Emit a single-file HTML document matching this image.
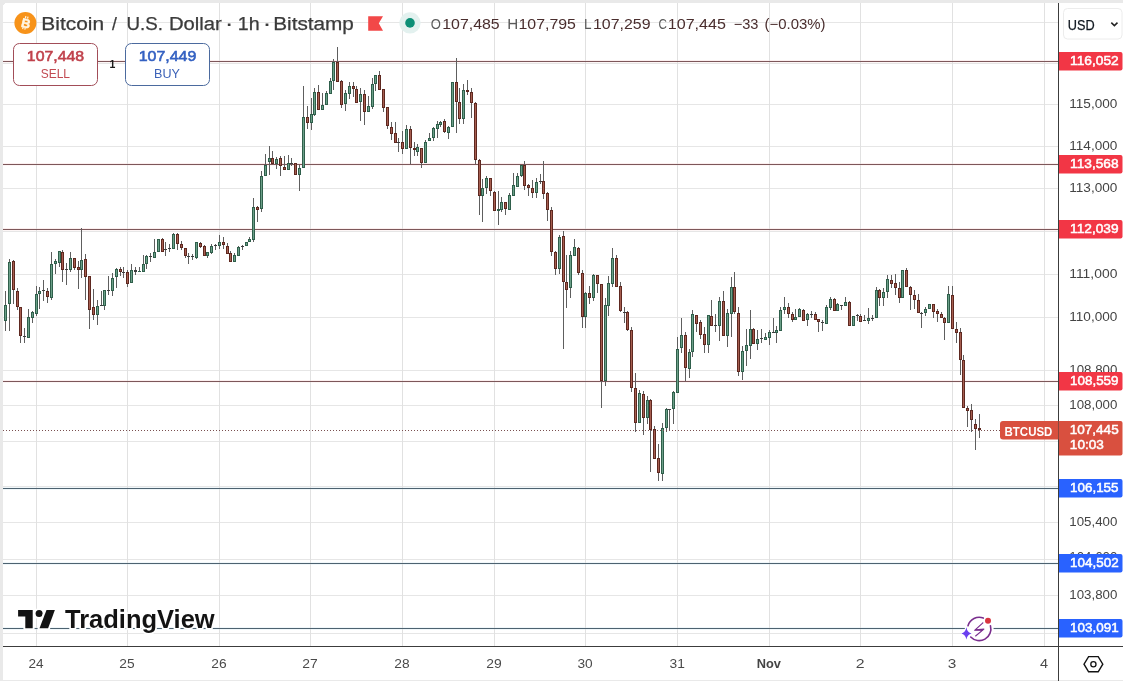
<!DOCTYPE html>
<html><head><meta charset="utf-8"><style>
html,body{margin:0;padding:0;width:1123px;height:681px;overflow:hidden;background:#e9e9e9;}
svg{position:absolute;left:0;top:0;display:block;}
text{font-family:'Liberation Sans', Arial, sans-serif;}
</style></head><body>
<svg width="1123" height="681" viewBox="0 0 1123 681" shape-rendering="crispEdges">
<path d="M3 7a4 4 0 0 1 4-4H1123V680H3z" fill="#ffffff"/>
<path d="M3 60h1055v1h-1055zM3 163h1055v1h-1055zM3 228h1055v1h-1055zM3 380h1055v1h-1055z" fill="#fcefef"/><path d="M3 62h1055v1h-1055zM3 165h1055v1h-1055zM3 230h1055v1h-1055zM3 382h1055v1h-1055z" fill="#fdf6f6"/><path d="M3 487h1055v1h-1055zM3 489h1055v1h-1055zM3 562h1055v1h-1055zM3 564h1055v1h-1055zM3 627h1055v1h-1055zM3 629h1055v1h-1055z" fill="#f0f7fa"/><path d="M3 22h1055v1h-1055zM3 63h1055v1h-1055zM3 104h1055v1h-1055zM3 146h1055v1h-1055zM3 188h1055v1h-1055zM3 231h1055v1h-1055zM3 274h1055v1h-1055zM3 317h1055v1h-1055zM3 370h1055v1h-1055zM3 405h1055v1h-1055zM3 441h1055v1h-1055zM3 486h1055v1h-1055zM3 522h1055v1h-1055zM3 559h1055v1h-1055zM3 595h1055v1h-1055zM3 633h1055v1h-1055z" fill="#e6e6e6"/><path d="M36 3h1v643h-1zM127 3h1v643h-1zM219 3h1v643h-1zM310 3h1v643h-1zM402 3h1v643h-1zM494 3h1v643h-1zM585 3h1v643h-1zM677 3h1v643h-1zM769 3h1v643h-1zM860 3h1v643h-1zM952 3h1v643h-1zM1044 3h1v643h-1z" fill="#e1e1e1"/>
<path d="M3 61h1055v1h-1055zM3 164h1055v1h-1055zM3 229h1055v1h-1055zM3 381h1055v1h-1055z" fill="#7d575a"/><path d="M3 488h1055v1h-1055zM3 563h1055v1h-1055zM3 628h1055v1h-1055z" fill="#4d6270"/>
<path d="M5 291h1v40h-1zM9 259h1v72h-1zM13 260h1v44h-1zM17 288h1v22h-1zM20 307h1v36h-1zM24 328h1v15h-1zM28 309h1v29h-1zM32 311h1v12h-1zM36 286h1v30h-1zM39 287h1v22h-1zM43 280h1v21h-1zM47 288h1v15h-1zM51 252h1v48h-1zM55 259h1v15h-1zM59 251h1v16h-1zM62 250h1v32h-1zM66 263h1v22h-1zM70 252h1v20h-1zM74 258h1v12h-1zM78 261h1v28h-1zM81 228h1v50h-1zM85 254h1v46h-1zM89 276h1v53h-1zM93 289h1v31h-1zM97 300h1v25h-1zM101 291h1v15h-1zM104 290h1v20h-1zM108 276h1v19h-1zM112 273h1v23h-1zM116 268h1v20h-1zM120 267h1v9h-1zM123 267h1v11h-1zM127 270h1v17h-1zM131 264h1v19h-1zM135 267h1v8h-1zM139 267h1v5h-1zM143 255h1v17h-1zM146 255h1v14h-1zM150 253h1v9h-1zM154 239h1v19h-1zM158 239h1v13h-1zM162 238h1v14h-1zM165 242h1v14h-1zM169 244h1v8h-1zM173 233h1v16h-1zM177 233h1v17h-1zM181 241h1v9h-1zM185 248h1v10h-1zM188 253h1v11h-1zM192 254h1v6h-1zM196 242h1v17h-1zM200 242h1v6h-1zM204 245h1v11h-1zM207 252h1v6h-1zM211 244h1v10h-1zM215 244h1v6h-1zM219 235h1v14h-1zM223 237h1v12h-1zM227 243h1v11h-1zM230 251h1v11h-1zM234 253h1v9h-1zM238 246h1v10h-1zM242 245h1v5h-1zM246 242h1v4h-1zM249 237h1v5h-1zM253 198h1v44h-1zM257 206h1v16h-1zM261 171h1v41h-1zM265 154h1v22h-1zM269 146h1v29h-1zM272 151h1v13h-1zM276 157h1v12h-1zM280 156h1v20h-1zM284 156h1v14h-1zM288 155h1v15h-1zM291 158h1v8h-1zM295 163h1v12h-1zM299 165h1v26h-1zM303 86h1v82h-1zM307 106h1v23h-1zM311 98h1v32h-1zM314 88h1v28h-1zM318 85h1v25h-1zM322 93h1v17h-1zM326 91h1v14h-1zM330 78h1v16h-1zM333 59h1v31h-1zM337 47h1v35h-1zM341 80h1v28h-1zM345 90h1v21h-1zM349 82h1v17h-1zM353 82h1v15h-1zM356 86h1v17h-1zM360 88h1v33h-1zM364 90h1v35h-1zM368 96h1v16h-1zM372 78h1v31h-1zM375 75h1v16h-1zM379 71h1v19h-1zM383 89h1v23h-1zM387 107h1v22h-1zM391 122h1v18h-1zM395 122h1v21h-1zM398 138h1v14h-1zM402 131h1v23h-1zM406 125h1v24h-1zM410 126h1v38h-1zM414 142h1v14h-1zM417 144h1v12h-1zM421 148h1v20h-1zM425 140h1v23h-1zM429 133h1v8h-1zM433 127h1v14h-1zM437 121h1v17h-1zM440 121h1v6h-1zM444 119h1v14h-1zM448 126h1v13h-1zM452 82h1v45h-1zM456 58h1v75h-1zM459 88h1v36h-1zM463 84h1v40h-1zM467 80h1v15h-1zM471 88h1v30h-1zM475 102h1v62h-1zM479 159h1v56h-1zM482 179h1v43h-1zM486 176h1v18h-1zM490 178h1v18h-1zM494 191h1v20h-1zM498 191h1v34h-1zM501 197h1v15h-1zM505 202h1v13h-1zM509 193h1v17h-1zM513 173h1v23h-1zM517 173h1v14h-1zM521 165h1v12h-1zM524 161h1v29h-1zM528 184h1v12h-1zM532 180h1v18h-1zM536 178h1v20h-1zM540 174h1v10h-1zM543 161h1v38h-1zM547 192h1v29h-1zM551 207h1v49h-1zM555 251h1v24h-1zM559 235h1v39h-1zM563 231h1v118h-1zM566 255h1v53h-1zM570 251h1v47h-1zM574 239h1v17h-1zM578 247h1v28h-1zM582 270h1v58h-1zM585 292h1v36h-1zM589 286h1v18h-1zM593 274h1v27h-1zM597 275h1v18h-1zM601 284h1v124h-1zM605 298h1v88h-1zM608 276h1v40h-1zM612 248h1v39h-1zM616 255h1v32h-1zM620 282h1v30h-1zM624 307h1v16h-1zM627 311h1v20h-1zM631 327h1v65h-1zM635 373h1v59h-1zM639 390h1v33h-1zM643 391h1v44h-1zM647 396h1v28h-1zM650 399h1v73h-1zM654 426h1v33h-1zM658 444h1v37h-1zM662 423h1v58h-1zM666 408h1v24h-1zM669 409h1v21h-1zM673 391h1v33h-1zM677 337h1v56h-1zM681 318h1v35h-1zM685 332h1v49h-1zM689 349h1v29h-1zM692 310h1v47h-1zM696 315h1v17h-1zM700 320h1v19h-1zM704 327h1v26h-1zM708 315h1v38h-1zM711 300h1v26h-1zM715 314h1v18h-1zM719 297h1v44h-1zM723 291h1v45h-1zM727 309h1v38h-1zM731 277h1v60h-1zM734 272h1v42h-1zM738 307h1v69h-1zM742 346h1v34h-1zM746 329h1v37h-1zM750 310h1v49h-1zM753 328h1v16h-1zM757 330h1v20h-1zM761 329h1v14h-1zM765 333h1v7h-1zM769 330h1v15h-1zM773 318h1v15h-1zM776 326h1v17h-1zM780 307h1v24h-1zM784 297h1v17h-1zM788 303h1v15h-1zM792 312h1v10h-1zM795 309h1v11h-1zM799 308h1v9h-1zM803 309h1v12h-1zM807 313h1v13h-1zM811 311h1v7h-1zM815 312h1v8h-1zM818 319h1v13h-1zM822 320h1v11h-1zM826 305h1v19h-1zM830 297h1v13h-1zM834 298h1v13h-1zM837 303h1v8h-1zM841 305h1v5h-1zM845 297h1v9h-1zM849 301h1v25h-1zM853 316h1v10h-1zM857 314h1v7h-1zM860 314h1v8h-1zM864 315h1v6h-1zM868 308h1v16h-1zM872 315h1v6h-1zM876 287h1v31h-1zM879 289h1v17h-1zM883 288h1v18h-1zM887 275h1v23h-1zM891 275h1v13h-1zM895 274h1v21h-1zM899 282h1v21h-1zM902 270h1v28h-1zM906 268h1v19h-1zM910 286h1v24h-1zM914 290h1v19h-1zM918 294h1v19h-1zM921 312h1v16h-1zM925 307h1v9h-1zM929 304h1v5h-1zM933 304h1v14h-1zM937 309h1v13h-1zM941 312h1v6h-1zM944 317h1v23h-1zM948 286h1v37h-1zM952 286h1v43h-1zM956 322h1v21h-1zM960 328h1v47h-1zM963 355h1v53h-1zM967 406h1v21h-1zM971 404h1v28h-1zM975 419h1v31h-1zM979 414h1v24h-1z" fill="#5e5e5e"/>
<rect x="4" y="305" width="3" height="16" fill="#2f5f4b"/>
<rect x="5" y="306" width="1" height="14" fill="#6b9f88"/>
<rect x="8" y="262" width="3" height="42" fill="#2f5f4b"/>
<rect x="9" y="263" width="1" height="40" fill="#6b9f88"/>
<rect x="12" y="261" width="3" height="29" fill="#5e2820"/>
<rect x="13" y="262" width="1" height="27" fill="#a65e50"/>
<rect x="16" y="291" width="3" height="16" fill="#5e2820"/>
<rect x="17" y="292" width="1" height="14" fill="#a65e50"/>
<rect x="19" y="307" width="3" height="29" fill="#5e2820"/>
<rect x="20" y="308" width="1" height="27" fill="#a65e50"/>
<rect x="23" y="336" width="3" height="1" fill="#3d3d3d"/>
<rect x="27" y="317" width="3" height="21" fill="#2f5f4b"/>
<rect x="28" y="318" width="1" height="19" fill="#6b9f88"/>
<rect x="31" y="312" width="3" height="6" fill="#2f5f4b"/>
<rect x="32" y="313" width="1" height="4" fill="#6b9f88"/>
<rect x="35" y="294" width="3" height="20" fill="#2f5f4b"/>
<rect x="36" y="295" width="1" height="18" fill="#6b9f88"/>
<rect x="38" y="291" width="3" height="3" fill="#2f5f4b"/>
<rect x="39" y="292" width="1" height="1" fill="#6b9f88"/>
<rect x="42" y="290" width="3" height="1" fill="#3d3d3d"/>
<rect x="46" y="291" width="3" height="6" fill="#5e2820"/>
<rect x="47" y="292" width="1" height="4" fill="#a65e50"/>
<rect x="50" y="264" width="3" height="34" fill="#2f5f4b"/>
<rect x="51" y="265" width="1" height="32" fill="#6b9f88"/>
<rect x="54" y="261" width="3" height="3" fill="#2f5f4b"/>
<rect x="55" y="262" width="1" height="1" fill="#6b9f88"/>
<rect x="58" y="251" width="3" height="12" fill="#2f5f4b"/>
<rect x="59" y="252" width="1" height="10" fill="#6b9f88"/>
<rect x="61" y="252" width="3" height="18" fill="#5e2820"/>
<rect x="62" y="253" width="1" height="16" fill="#a65e50"/>
<rect x="65" y="269" width="3" height="1" fill="#3d3d3d"/>
<rect x="69" y="258" width="3" height="12" fill="#2f5f4b"/>
<rect x="70" y="259" width="1" height="10" fill="#6b9f88"/>
<rect x="73" y="258" width="3" height="10" fill="#5e2820"/>
<rect x="74" y="259" width="1" height="8" fill="#a65e50"/>
<rect x="77" y="267" width="3" height="3" fill="#5e2820"/>
<rect x="78" y="268" width="1" height="1" fill="#a65e50"/>
<rect x="80" y="260" width="3" height="10" fill="#2f5f4b"/>
<rect x="81" y="261" width="1" height="8" fill="#6b9f88"/>
<rect x="84" y="259" width="3" height="18" fill="#5e2820"/>
<rect x="85" y="260" width="1" height="16" fill="#a65e50"/>
<rect x="88" y="276" width="3" height="34" fill="#5e2820"/>
<rect x="89" y="277" width="1" height="32" fill="#a65e50"/>
<rect x="92" y="307" width="3" height="8" fill="#5e2820"/>
<rect x="93" y="308" width="1" height="6" fill="#a65e50"/>
<rect x="96" y="306" width="3" height="9" fill="#2f5f4b"/>
<rect x="97" y="307" width="1" height="7" fill="#6b9f88"/>
<rect x="100" y="305" width="3" height="1" fill="#3d3d3d"/>
<rect x="103" y="290" width="3" height="16" fill="#2f5f4b"/>
<rect x="104" y="291" width="1" height="14" fill="#6b9f88"/>
<rect x="107" y="290" width="3" height="1" fill="#3d3d3d"/>
<rect x="111" y="278" width="3" height="13" fill="#2f5f4b"/>
<rect x="112" y="279" width="1" height="11" fill="#6b9f88"/>
<rect x="115" y="269" width="3" height="8" fill="#2f5f4b"/>
<rect x="116" y="270" width="1" height="6" fill="#6b9f88"/>
<rect x="119" y="269" width="3" height="3" fill="#5e2820"/>
<rect x="120" y="270" width="1" height="1" fill="#a65e50"/>
<rect x="122" y="272" width="3" height="1" fill="#3d3d3d"/>
<rect x="126" y="272" width="3" height="12" fill="#5e2820"/>
<rect x="127" y="273" width="1" height="10" fill="#a65e50"/>
<rect x="130" y="270" width="3" height="13" fill="#2f5f4b"/>
<rect x="131" y="271" width="1" height="11" fill="#6b9f88"/>
<rect x="134" y="270" width="3" height="2" fill="#3d3d3d"/>
<rect x="138" y="271" width="3" height="1" fill="#2f5f4b"/>
<rect x="142" y="264" width="3" height="8" fill="#2f5f4b"/>
<rect x="143" y="265" width="1" height="6" fill="#6b9f88"/>
<rect x="145" y="256" width="3" height="8" fill="#2f5f4b"/>
<rect x="146" y="257" width="1" height="6" fill="#6b9f88"/>
<rect x="149" y="256" width="3" height="1" fill="#3d3d3d"/>
<rect x="153" y="252" width="3" height="6" fill="#2f5f4b"/>
<rect x="154" y="253" width="1" height="4" fill="#6b9f88"/>
<rect x="157" y="239" width="3" height="13" fill="#2f5f4b"/>
<rect x="158" y="240" width="1" height="11" fill="#6b9f88"/>
<rect x="161" y="239" width="3" height="13" fill="#5e2820"/>
<rect x="162" y="240" width="1" height="11" fill="#a65e50"/>
<rect x="164" y="249" width="3" height="1" fill="#3d3d3d"/>
<rect x="168" y="248" width="3" height="1" fill="#3d3d3d"/>
<rect x="172" y="234" width="3" height="15" fill="#2f5f4b"/>
<rect x="173" y="235" width="1" height="13" fill="#6b9f88"/>
<rect x="176" y="234" width="3" height="10" fill="#5e2820"/>
<rect x="177" y="235" width="1" height="8" fill="#a65e50"/>
<rect x="180" y="244" width="3" height="4" fill="#5e2820"/>
<rect x="181" y="245" width="1" height="2" fill="#a65e50"/>
<rect x="184" y="248" width="3" height="8" fill="#5e2820"/>
<rect x="185" y="249" width="1" height="6" fill="#a65e50"/>
<rect x="187" y="256" width="3" height="1" fill="#3d3d3d"/>
<rect x="191" y="256" width="3" height="1" fill="#3d3d3d"/>
<rect x="195" y="242" width="3" height="16" fill="#2f5f4b"/>
<rect x="196" y="243" width="1" height="14" fill="#6b9f88"/>
<rect x="199" y="243" width="3" height="4" fill="#5e2820"/>
<rect x="200" y="244" width="1" height="2" fill="#a65e50"/>
<rect x="203" y="246" width="3" height="10" fill="#5e2820"/>
<rect x="204" y="247" width="1" height="8" fill="#a65e50"/>
<rect x="206" y="252" width="3" height="4" fill="#2f5f4b"/>
<rect x="207" y="253" width="1" height="2" fill="#6b9f88"/>
<rect x="210" y="246" width="3" height="7" fill="#2f5f4b"/>
<rect x="211" y="247" width="1" height="5" fill="#6b9f88"/>
<rect x="214" y="245" width="3" height="1" fill="#3d3d3d"/>
<rect x="218" y="242" width="3" height="4" fill="#2f5f4b"/>
<rect x="219" y="243" width="1" height="2" fill="#6b9f88"/>
<rect x="222" y="242" width="3" height="3" fill="#5e2820"/>
<rect x="223" y="243" width="1" height="1" fill="#a65e50"/>
<rect x="226" y="246" width="3" height="8" fill="#5e2820"/>
<rect x="227" y="247" width="1" height="6" fill="#a65e50"/>
<rect x="229" y="253" width="3" height="9" fill="#5e2820"/>
<rect x="230" y="254" width="1" height="7" fill="#a65e50"/>
<rect x="233" y="255" width="3" height="7" fill="#2f5f4b"/>
<rect x="234" y="256" width="1" height="5" fill="#6b9f88"/>
<rect x="237" y="247" width="3" height="9" fill="#2f5f4b"/>
<rect x="238" y="248" width="1" height="7" fill="#6b9f88"/>
<rect x="241" y="246" width="3" height="1" fill="#3d3d3d"/>
<rect x="245" y="242" width="3" height="4" fill="#2f5f4b"/>
<rect x="246" y="243" width="1" height="2" fill="#6b9f88"/>
<rect x="248" y="239" width="3" height="3" fill="#2f5f4b"/>
<rect x="249" y="240" width="1" height="1" fill="#6b9f88"/>
<rect x="252" y="207" width="3" height="33" fill="#2f5f4b"/>
<rect x="253" y="208" width="1" height="31" fill="#6b9f88"/>
<rect x="256" y="207" width="3" height="3" fill="#5e2820"/>
<rect x="257" y="208" width="1" height="1" fill="#a65e50"/>
<rect x="260" y="176" width="3" height="33" fill="#2f5f4b"/>
<rect x="261" y="177" width="1" height="31" fill="#6b9f88"/>
<rect x="264" y="165" width="3" height="11" fill="#2f5f4b"/>
<rect x="265" y="166" width="1" height="9" fill="#6b9f88"/>
<rect x="268" y="158" width="3" height="4" fill="#2f5f4b"/>
<rect x="269" y="159" width="1" height="2" fill="#6b9f88"/>
<rect x="271" y="158" width="3" height="6" fill="#5e2820"/>
<rect x="272" y="159" width="1" height="4" fill="#a65e50"/>
<rect x="275" y="159" width="3" height="5" fill="#2f5f4b"/>
<rect x="276" y="160" width="1" height="3" fill="#6b9f88"/>
<rect x="279" y="158" width="3" height="8" fill="#5e2820"/>
<rect x="280" y="159" width="1" height="6" fill="#a65e50"/>
<rect x="283" y="167" width="3" height="3" fill="#5e2820"/>
<rect x="284" y="168" width="1" height="1" fill="#a65e50"/>
<rect x="287" y="163" width="3" height="7" fill="#2f5f4b"/>
<rect x="288" y="164" width="1" height="5" fill="#6b9f88"/>
<rect x="290" y="163" width="3" height="1" fill="#3d3d3d"/>
<rect x="294" y="163" width="3" height="12" fill="#5e2820"/>
<rect x="295" y="164" width="1" height="10" fill="#a65e50"/>
<rect x="298" y="168" width="3" height="7" fill="#2f5f4b"/>
<rect x="299" y="169" width="1" height="5" fill="#6b9f88"/>
<rect x="302" y="117" width="3" height="51" fill="#2f5f4b"/>
<rect x="303" y="118" width="1" height="49" fill="#6b9f88"/>
<rect x="306" y="117" width="3" height="6" fill="#5e2820"/>
<rect x="307" y="118" width="1" height="4" fill="#a65e50"/>
<rect x="310" y="114" width="3" height="9" fill="#2f5f4b"/>
<rect x="311" y="115" width="1" height="7" fill="#6b9f88"/>
<rect x="313" y="92" width="3" height="23" fill="#2f5f4b"/>
<rect x="314" y="93" width="1" height="21" fill="#6b9f88"/>
<rect x="317" y="92" width="3" height="18" fill="#5e2820"/>
<rect x="318" y="93" width="1" height="16" fill="#a65e50"/>
<rect x="321" y="105" width="3" height="5" fill="#2f5f4b"/>
<rect x="322" y="106" width="1" height="3" fill="#6b9f88"/>
<rect x="325" y="93" width="3" height="12" fill="#2f5f4b"/>
<rect x="326" y="94" width="1" height="10" fill="#6b9f88"/>
<rect x="329" y="81" width="3" height="13" fill="#2f5f4b"/>
<rect x="330" y="82" width="1" height="11" fill="#6b9f88"/>
<rect x="332" y="62" width="3" height="19" fill="#2f5f4b"/>
<rect x="333" y="63" width="1" height="17" fill="#6b9f88"/>
<rect x="336" y="62" width="3" height="20" fill="#5e2820"/>
<rect x="337" y="63" width="1" height="18" fill="#a65e50"/>
<rect x="340" y="81" width="3" height="24" fill="#5e2820"/>
<rect x="341" y="82" width="1" height="22" fill="#a65e50"/>
<rect x="344" y="93" width="3" height="11" fill="#2f5f4b"/>
<rect x="345" y="94" width="1" height="9" fill="#6b9f88"/>
<rect x="348" y="86" width="3" height="8" fill="#2f5f4b"/>
<rect x="349" y="87" width="1" height="6" fill="#6b9f88"/>
<rect x="352" y="86" width="3" height="3" fill="#5e2820"/>
<rect x="353" y="87" width="1" height="1" fill="#a65e50"/>
<rect x="355" y="89" width="3" height="14" fill="#5e2820"/>
<rect x="356" y="90" width="1" height="12" fill="#a65e50"/>
<rect x="359" y="94" width="3" height="8" fill="#2f5f4b"/>
<rect x="360" y="95" width="1" height="6" fill="#6b9f88"/>
<rect x="363" y="94" width="3" height="18" fill="#5e2820"/>
<rect x="364" y="95" width="1" height="16" fill="#a65e50"/>
<rect x="367" y="106" width="3" height="6" fill="#2f5f4b"/>
<rect x="368" y="107" width="1" height="4" fill="#6b9f88"/>
<rect x="371" y="84" width="3" height="23" fill="#2f5f4b"/>
<rect x="372" y="85" width="1" height="21" fill="#6b9f88"/>
<rect x="374" y="75" width="3" height="9" fill="#2f5f4b"/>
<rect x="375" y="76" width="1" height="7" fill="#6b9f88"/>
<rect x="378" y="75" width="3" height="15" fill="#5e2820"/>
<rect x="379" y="76" width="1" height="13" fill="#a65e50"/>
<rect x="382" y="89" width="3" height="19" fill="#5e2820"/>
<rect x="383" y="90" width="1" height="17" fill="#a65e50"/>
<rect x="386" y="107" width="3" height="19" fill="#5e2820"/>
<rect x="387" y="108" width="1" height="17" fill="#a65e50"/>
<rect x="390" y="127" width="3" height="7" fill="#5e2820"/>
<rect x="391" y="128" width="1" height="5" fill="#a65e50"/>
<rect x="394" y="133" width="3" height="10" fill="#5e2820"/>
<rect x="395" y="134" width="1" height="8" fill="#a65e50"/>
<rect x="397" y="142" width="3" height="1" fill="#3d3d3d"/>
<rect x="401" y="142" width="3" height="7" fill="#5e2820"/>
<rect x="402" y="143" width="1" height="5" fill="#a65e50"/>
<rect x="405" y="129" width="3" height="20" fill="#2f5f4b"/>
<rect x="406" y="130" width="1" height="18" fill="#6b9f88"/>
<rect x="409" y="129" width="3" height="19" fill="#5e2820"/>
<rect x="410" y="130" width="1" height="17" fill="#a65e50"/>
<rect x="413" y="148" width="3" height="2" fill="#5e2820"/>
<rect x="416" y="147" width="3" height="5" fill="#2f5f4b"/>
<rect x="417" y="148" width="1" height="3" fill="#6b9f88"/>
<rect x="420" y="148" width="3" height="15" fill="#5e2820"/>
<rect x="421" y="149" width="1" height="13" fill="#a65e50"/>
<rect x="424" y="142" width="3" height="21" fill="#2f5f4b"/>
<rect x="425" y="143" width="1" height="19" fill="#6b9f88"/>
<rect x="428" y="138" width="3" height="3" fill="#2f5f4b"/>
<rect x="429" y="139" width="1" height="1" fill="#6b9f88"/>
<rect x="432" y="128" width="3" height="10" fill="#2f5f4b"/>
<rect x="433" y="129" width="1" height="8" fill="#6b9f88"/>
<rect x="436" y="124" width="3" height="5" fill="#2f5f4b"/>
<rect x="437" y="125" width="1" height="3" fill="#6b9f88"/>
<rect x="439" y="122" width="3" height="3" fill="#2f5f4b"/>
<rect x="440" y="123" width="1" height="1" fill="#6b9f88"/>
<rect x="443" y="121" width="3" height="11" fill="#5e2820"/>
<rect x="444" y="122" width="1" height="9" fill="#a65e50"/>
<rect x="447" y="127" width="3" height="6" fill="#2f5f4b"/>
<rect x="448" y="128" width="1" height="4" fill="#6b9f88"/>
<rect x="451" y="82" width="3" height="45" fill="#2f5f4b"/>
<rect x="452" y="83" width="1" height="43" fill="#6b9f88"/>
<rect x="455" y="82" width="3" height="20" fill="#5e2820"/>
<rect x="456" y="83" width="1" height="18" fill="#a65e50"/>
<rect x="458" y="102" width="3" height="17" fill="#5e2820"/>
<rect x="459" y="103" width="1" height="15" fill="#a65e50"/>
<rect x="462" y="90" width="3" height="29" fill="#2f5f4b"/>
<rect x="463" y="91" width="1" height="27" fill="#6b9f88"/>
<rect x="466" y="90" width="3" height="2" fill="#5e2820"/>
<rect x="470" y="92" width="3" height="11" fill="#5e2820"/>
<rect x="471" y="93" width="1" height="9" fill="#a65e50"/>
<rect x="474" y="103" width="3" height="57" fill="#5e2820"/>
<rect x="475" y="104" width="1" height="55" fill="#a65e50"/>
<rect x="478" y="160" width="3" height="36" fill="#5e2820"/>
<rect x="479" y="161" width="1" height="34" fill="#a65e50"/>
<rect x="481" y="188" width="3" height="8" fill="#2f5f4b"/>
<rect x="482" y="189" width="1" height="6" fill="#6b9f88"/>
<rect x="485" y="178" width="3" height="10" fill="#2f5f4b"/>
<rect x="486" y="179" width="1" height="8" fill="#6b9f88"/>
<rect x="489" y="178" width="3" height="13" fill="#5e2820"/>
<rect x="490" y="179" width="1" height="11" fill="#a65e50"/>
<rect x="493" y="192" width="3" height="19" fill="#5e2820"/>
<rect x="494" y="193" width="1" height="17" fill="#a65e50"/>
<rect x="497" y="209" width="3" height="2" fill="#2f5f4b"/>
<rect x="500" y="202" width="3" height="8" fill="#2f5f4b"/>
<rect x="501" y="203" width="1" height="6" fill="#6b9f88"/>
<rect x="504" y="202" width="3" height="7" fill="#5e2820"/>
<rect x="505" y="203" width="1" height="5" fill="#a65e50"/>
<rect x="508" y="195" width="3" height="15" fill="#2f5f4b"/>
<rect x="509" y="196" width="1" height="13" fill="#6b9f88"/>
<rect x="512" y="185" width="3" height="11" fill="#2f5f4b"/>
<rect x="513" y="186" width="1" height="9" fill="#6b9f88"/>
<rect x="516" y="176" width="3" height="11" fill="#2f5f4b"/>
<rect x="517" y="177" width="1" height="9" fill="#6b9f88"/>
<rect x="520" y="165" width="3" height="11" fill="#2f5f4b"/>
<rect x="521" y="166" width="1" height="9" fill="#6b9f88"/>
<rect x="523" y="165" width="3" height="21" fill="#5e2820"/>
<rect x="524" y="166" width="1" height="19" fill="#a65e50"/>
<rect x="527" y="185" width="3" height="3" fill="#5e2820"/>
<rect x="528" y="186" width="1" height="1" fill="#a65e50"/>
<rect x="531" y="188" width="3" height="5" fill="#5e2820"/>
<rect x="532" y="189" width="1" height="3" fill="#a65e50"/>
<rect x="535" y="182" width="3" height="11" fill="#2f5f4b"/>
<rect x="536" y="183" width="1" height="9" fill="#6b9f88"/>
<rect x="539" y="181" width="3" height="1" fill="#3d3d3d"/>
<rect x="542" y="181" width="3" height="13" fill="#5e2820"/>
<rect x="543" y="182" width="1" height="11" fill="#a65e50"/>
<rect x="546" y="193" width="3" height="17" fill="#5e2820"/>
<rect x="547" y="194" width="1" height="15" fill="#a65e50"/>
<rect x="550" y="210" width="3" height="42" fill="#5e2820"/>
<rect x="551" y="211" width="1" height="40" fill="#a65e50"/>
<rect x="554" y="252" width="3" height="17" fill="#5e2820"/>
<rect x="555" y="253" width="1" height="15" fill="#a65e50"/>
<rect x="558" y="237" width="3" height="32" fill="#2f5f4b"/>
<rect x="559" y="238" width="1" height="30" fill="#6b9f88"/>
<rect x="562" y="236" width="3" height="46" fill="#5e2820"/>
<rect x="563" y="237" width="1" height="44" fill="#a65e50"/>
<rect x="565" y="282" width="3" height="8" fill="#5e2820"/>
<rect x="566" y="283" width="1" height="6" fill="#a65e50"/>
<rect x="569" y="255" width="3" height="33" fill="#2f5f4b"/>
<rect x="570" y="256" width="1" height="31" fill="#6b9f88"/>
<rect x="573" y="247" width="3" height="9" fill="#2f5f4b"/>
<rect x="574" y="248" width="1" height="7" fill="#6b9f88"/>
<rect x="577" y="248" width="3" height="25" fill="#5e2820"/>
<rect x="578" y="249" width="1" height="23" fill="#a65e50"/>
<rect x="581" y="273" width="3" height="44" fill="#5e2820"/>
<rect x="582" y="274" width="1" height="42" fill="#a65e50"/>
<rect x="584" y="293" width="3" height="24" fill="#2f5f4b"/>
<rect x="585" y="294" width="1" height="22" fill="#6b9f88"/>
<rect x="588" y="293" width="3" height="5" fill="#5e2820"/>
<rect x="589" y="294" width="1" height="3" fill="#a65e50"/>
<rect x="592" y="275" width="3" height="23" fill="#2f5f4b"/>
<rect x="593" y="276" width="1" height="21" fill="#6b9f88"/>
<rect x="596" y="275" width="3" height="9" fill="#5e2820"/>
<rect x="597" y="276" width="1" height="7" fill="#a65e50"/>
<rect x="600" y="284" width="3" height="97" fill="#5e2820"/>
<rect x="601" y="285" width="1" height="95" fill="#a65e50"/>
<rect x="604" y="305" width="3" height="76" fill="#2f5f4b"/>
<rect x="605" y="306" width="1" height="74" fill="#6b9f88"/>
<rect x="607" y="283" width="3" height="23" fill="#2f5f4b"/>
<rect x="608" y="284" width="1" height="21" fill="#6b9f88"/>
<rect x="611" y="258" width="3" height="26" fill="#2f5f4b"/>
<rect x="612" y="259" width="1" height="24" fill="#6b9f88"/>
<rect x="615" y="258" width="3" height="29" fill="#5e2820"/>
<rect x="616" y="259" width="1" height="27" fill="#a65e50"/>
<rect x="619" y="286" width="3" height="25" fill="#5e2820"/>
<rect x="620" y="287" width="1" height="23" fill="#a65e50"/>
<rect x="623" y="312" width="3" height="1" fill="#3d3d3d"/>
<rect x="626" y="312" width="3" height="18" fill="#5e2820"/>
<rect x="627" y="313" width="1" height="16" fill="#a65e50"/>
<rect x="630" y="330" width="3" height="58" fill="#5e2820"/>
<rect x="631" y="331" width="1" height="56" fill="#a65e50"/>
<rect x="634" y="388" width="3" height="35" fill="#5e2820"/>
<rect x="635" y="389" width="1" height="33" fill="#a65e50"/>
<rect x="638" y="393" width="3" height="30" fill="#2f5f4b"/>
<rect x="639" y="394" width="1" height="28" fill="#6b9f88"/>
<rect x="642" y="394" width="3" height="24" fill="#5e2820"/>
<rect x="643" y="395" width="1" height="22" fill="#a65e50"/>
<rect x="646" y="400" width="3" height="18" fill="#2f5f4b"/>
<rect x="647" y="401" width="1" height="16" fill="#6b9f88"/>
<rect x="649" y="400" width="3" height="30" fill="#5e2820"/>
<rect x="650" y="401" width="1" height="28" fill="#a65e50"/>
<rect x="653" y="429" width="3" height="30" fill="#5e2820"/>
<rect x="654" y="430" width="1" height="28" fill="#a65e50"/>
<rect x="657" y="458" width="3" height="15" fill="#5e2820"/>
<rect x="658" y="459" width="1" height="13" fill="#a65e50"/>
<rect x="661" y="428" width="3" height="46" fill="#2f5f4b"/>
<rect x="662" y="429" width="1" height="44" fill="#6b9f88"/>
<rect x="665" y="409" width="3" height="19" fill="#2f5f4b"/>
<rect x="666" y="410" width="1" height="17" fill="#6b9f88"/>
<rect x="668" y="409" width="3" height="1" fill="#3d3d3d"/>
<rect x="672" y="392" width="3" height="17" fill="#2f5f4b"/>
<rect x="673" y="393" width="1" height="15" fill="#6b9f88"/>
<rect x="676" y="349" width="3" height="44" fill="#2f5f4b"/>
<rect x="677" y="350" width="1" height="42" fill="#6b9f88"/>
<rect x="680" y="335" width="3" height="13" fill="#2f5f4b"/>
<rect x="681" y="336" width="1" height="11" fill="#6b9f88"/>
<rect x="684" y="335" width="3" height="33" fill="#5e2820"/>
<rect x="685" y="336" width="1" height="31" fill="#a65e50"/>
<rect x="688" y="352" width="3" height="17" fill="#2f5f4b"/>
<rect x="689" y="353" width="1" height="15" fill="#6b9f88"/>
<rect x="691" y="314" width="3" height="38" fill="#2f5f4b"/>
<rect x="692" y="315" width="1" height="36" fill="#6b9f88"/>
<rect x="695" y="315" width="3" height="9" fill="#5e2820"/>
<rect x="696" y="316" width="1" height="7" fill="#a65e50"/>
<rect x="699" y="322" width="3" height="13" fill="#5e2820"/>
<rect x="700" y="323" width="1" height="11" fill="#a65e50"/>
<rect x="703" y="334" width="3" height="11" fill="#5e2820"/>
<rect x="704" y="335" width="1" height="9" fill="#a65e50"/>
<rect x="707" y="315" width="3" height="30" fill="#2f5f4b"/>
<rect x="708" y="316" width="1" height="28" fill="#6b9f88"/>
<rect x="710" y="316" width="3" height="10" fill="#5e2820"/>
<rect x="711" y="317" width="1" height="8" fill="#a65e50"/>
<rect x="714" y="325" width="3" height="1" fill="#3d3d3d"/>
<rect x="718" y="301" width="3" height="25" fill="#2f5f4b"/>
<rect x="719" y="302" width="1" height="23" fill="#6b9f88"/>
<rect x="722" y="301" width="3" height="35" fill="#5e2820"/>
<rect x="723" y="302" width="1" height="33" fill="#a65e50"/>
<rect x="726" y="313" width="3" height="23" fill="#2f5f4b"/>
<rect x="727" y="314" width="1" height="21" fill="#6b9f88"/>
<rect x="730" y="287" width="3" height="27" fill="#2f5f4b"/>
<rect x="731" y="288" width="1" height="25" fill="#6b9f88"/>
<rect x="733" y="287" width="3" height="25" fill="#5e2820"/>
<rect x="734" y="288" width="1" height="23" fill="#a65e50"/>
<rect x="737" y="313" width="3" height="59" fill="#5e2820"/>
<rect x="738" y="314" width="1" height="57" fill="#a65e50"/>
<rect x="741" y="351" width="3" height="21" fill="#2f5f4b"/>
<rect x="742" y="352" width="1" height="19" fill="#6b9f88"/>
<rect x="745" y="345" width="3" height="6" fill="#2f5f4b"/>
<rect x="746" y="346" width="1" height="4" fill="#6b9f88"/>
<rect x="749" y="329" width="3" height="17" fill="#2f5f4b"/>
<rect x="750" y="330" width="1" height="15" fill="#6b9f88"/>
<rect x="752" y="329" width="3" height="15" fill="#5e2820"/>
<rect x="753" y="330" width="1" height="13" fill="#a65e50"/>
<rect x="756" y="339" width="3" height="5" fill="#2f5f4b"/>
<rect x="757" y="340" width="1" height="3" fill="#6b9f88"/>
<rect x="760" y="338" width="3" height="1" fill="#3d3d3d"/>
<rect x="764" y="337" width="3" height="3" fill="#2f5f4b"/>
<rect x="765" y="338" width="1" height="1" fill="#6b9f88"/>
<rect x="768" y="332" width="3" height="6" fill="#2f5f4b"/>
<rect x="769" y="333" width="1" height="4" fill="#6b9f88"/>
<rect x="772" y="332" width="3" height="1" fill="#3d3d3d"/>
<rect x="775" y="330" width="3" height="3" fill="#2f5f4b"/>
<rect x="776" y="331" width="1" height="1" fill="#6b9f88"/>
<rect x="779" y="310" width="3" height="21" fill="#2f5f4b"/>
<rect x="780" y="311" width="1" height="19" fill="#6b9f88"/>
<rect x="783" y="307" width="3" height="3" fill="#2f5f4b"/>
<rect x="784" y="308" width="1" height="1" fill="#6b9f88"/>
<rect x="787" y="307" width="3" height="7" fill="#5e2820"/>
<rect x="788" y="308" width="1" height="5" fill="#a65e50"/>
<rect x="791" y="314" width="3" height="6" fill="#5e2820"/>
<rect x="792" y="315" width="1" height="4" fill="#a65e50"/>
<rect x="794" y="317" width="3" height="3" fill="#2f5f4b"/>
<rect x="795" y="318" width="1" height="1" fill="#6b9f88"/>
<rect x="798" y="309" width="3" height="8" fill="#2f5f4b"/>
<rect x="799" y="310" width="1" height="6" fill="#6b9f88"/>
<rect x="802" y="310" width="3" height="11" fill="#5e2820"/>
<rect x="803" y="311" width="1" height="9" fill="#a65e50"/>
<rect x="806" y="314" width="3" height="6" fill="#2f5f4b"/>
<rect x="807" y="315" width="1" height="4" fill="#6b9f88"/>
<rect x="810" y="314" width="3" height="1" fill="#3d3d3d"/>
<rect x="814" y="314" width="3" height="6" fill="#5e2820"/>
<rect x="815" y="315" width="1" height="4" fill="#a65e50"/>
<rect x="817" y="319" width="3" height="3" fill="#5e2820"/>
<rect x="818" y="320" width="1" height="1" fill="#a65e50"/>
<rect x="821" y="322" width="3" height="1" fill="#3d3d3d"/>
<rect x="825" y="307" width="3" height="17" fill="#2f5f4b"/>
<rect x="826" y="308" width="1" height="15" fill="#6b9f88"/>
<rect x="829" y="299" width="3" height="9" fill="#2f5f4b"/>
<rect x="830" y="300" width="1" height="7" fill="#6b9f88"/>
<rect x="833" y="299" width="3" height="12" fill="#5e2820"/>
<rect x="834" y="300" width="1" height="10" fill="#a65e50"/>
<rect x="836" y="304" width="3" height="7" fill="#2f5f4b"/>
<rect x="837" y="305" width="1" height="5" fill="#6b9f88"/>
<rect x="840" y="305" width="3" height="1" fill="#3d3d3d"/>
<rect x="844" y="302" width="3" height="4" fill="#2f5f4b"/>
<rect x="845" y="303" width="1" height="2" fill="#6b9f88"/>
<rect x="848" y="302" width="3" height="24" fill="#5e2820"/>
<rect x="849" y="303" width="1" height="22" fill="#a65e50"/>
<rect x="852" y="316" width="3" height="10" fill="#2f5f4b"/>
<rect x="853" y="317" width="1" height="8" fill="#6b9f88"/>
<rect x="856" y="315" width="3" height="1" fill="#3d3d3d"/>
<rect x="859" y="316" width="3" height="6" fill="#5e2820"/>
<rect x="860" y="317" width="1" height="4" fill="#a65e50"/>
<rect x="863" y="320" width="3" height="1" fill="#3d3d3d"/>
<rect x="867" y="318" width="3" height="3" fill="#2f5f4b"/>
<rect x="868" y="319" width="1" height="1" fill="#6b9f88"/>
<rect x="871" y="318" width="3" height="1" fill="#3d3d3d"/>
<rect x="875" y="290" width="3" height="28" fill="#2f5f4b"/>
<rect x="876" y="291" width="1" height="26" fill="#6b9f88"/>
<rect x="878" y="290" width="3" height="8" fill="#5e2820"/>
<rect x="879" y="291" width="1" height="6" fill="#a65e50"/>
<rect x="882" y="292" width="3" height="6" fill="#2f5f4b"/>
<rect x="883" y="293" width="1" height="4" fill="#6b9f88"/>
<rect x="886" y="279" width="3" height="13" fill="#2f5f4b"/>
<rect x="887" y="280" width="1" height="11" fill="#6b9f88"/>
<rect x="890" y="280" width="3" height="4" fill="#5e2820"/>
<rect x="891" y="281" width="1" height="2" fill="#a65e50"/>
<rect x="894" y="283" width="3" height="5" fill="#5e2820"/>
<rect x="895" y="284" width="1" height="3" fill="#a65e50"/>
<rect x="898" y="288" width="3" height="10" fill="#5e2820"/>
<rect x="899" y="289" width="1" height="8" fill="#a65e50"/>
<rect x="901" y="270" width="3" height="28" fill="#2f5f4b"/>
<rect x="902" y="271" width="1" height="26" fill="#6b9f88"/>
<rect x="905" y="270" width="3" height="17" fill="#5e2820"/>
<rect x="906" y="271" width="1" height="15" fill="#a65e50"/>
<rect x="909" y="287" width="3" height="8" fill="#5e2820"/>
<rect x="910" y="288" width="1" height="6" fill="#a65e50"/>
<rect x="913" y="295" width="3" height="5" fill="#5e2820"/>
<rect x="914" y="296" width="1" height="3" fill="#a65e50"/>
<rect x="917" y="300" width="3" height="13" fill="#5e2820"/>
<rect x="918" y="301" width="1" height="11" fill="#a65e50"/>
<rect x="920" y="313" width="3" height="1" fill="#3d3d3d"/>
<rect x="924" y="309" width="3" height="4" fill="#2f5f4b"/>
<rect x="925" y="310" width="1" height="2" fill="#6b9f88"/>
<rect x="928" y="304" width="3" height="5" fill="#2f5f4b"/>
<rect x="929" y="305" width="1" height="3" fill="#6b9f88"/>
<rect x="932" y="304" width="3" height="8" fill="#5e2820"/>
<rect x="933" y="305" width="1" height="6" fill="#a65e50"/>
<rect x="936" y="311" width="3" height="3" fill="#5e2820"/>
<rect x="937" y="312" width="1" height="1" fill="#a65e50"/>
<rect x="940" y="314" width="3" height="4" fill="#5e2820"/>
<rect x="941" y="315" width="1" height="2" fill="#a65e50"/>
<rect x="943" y="318" width="3" height="5" fill="#5e2820"/>
<rect x="944" y="319" width="1" height="3" fill="#a65e50"/>
<rect x="947" y="294" width="3" height="29" fill="#2f5f4b"/>
<rect x="948" y="295" width="1" height="27" fill="#6b9f88"/>
<rect x="951" y="295" width="3" height="34" fill="#5e2820"/>
<rect x="952" y="296" width="1" height="32" fill="#a65e50"/>
<rect x="955" y="329" width="3" height="4" fill="#5e2820"/>
<rect x="956" y="330" width="1" height="2" fill="#a65e50"/>
<rect x="959" y="332" width="3" height="28" fill="#5e2820"/>
<rect x="960" y="333" width="1" height="26" fill="#a65e50"/>
<rect x="962" y="360" width="3" height="48" fill="#5e2820"/>
<rect x="963" y="361" width="1" height="46" fill="#a65e50"/>
<rect x="966" y="408" width="3" height="3" fill="#5e2820"/>
<rect x="967" y="409" width="1" height="1" fill="#a65e50"/>
<rect x="970" y="410" width="3" height="10" fill="#5e2820"/>
<rect x="971" y="411" width="1" height="8" fill="#a65e50"/>
<rect x="974" y="424" width="3" height="5" fill="#5e2820"/>
<rect x="975" y="425" width="1" height="3" fill="#a65e50"/>
<rect x="978" y="428" width="3" height="2" fill="#5e2820"/>
<line x1="3" y1="430.5" x2="1000" y2="430.5" stroke="#7a5050" stroke-width="1" stroke-dasharray="1 2"/>
<!-- axes -->
<rect x="1058" y="3" width="1" height="678" fill="#3c3c3c"/>
<rect x="3" y="646" width="1120" height="1" fill="#3c3c3c"/>
<g shape-rendering="geometricPrecision">
<text x="1069.26" y="108.00" font-size="13" font-weight="normal" fill="#444" textLength="48.09" lengthAdjust="spacingAndGlyphs" >115,000</text>
<text x="1069.26" y="150.00" font-size="13" font-weight="normal" fill="#444" textLength="48.09" lengthAdjust="spacingAndGlyphs" >114,000</text>
<text x="1069.26" y="192.00" font-size="13" font-weight="normal" fill="#444" textLength="48.09" lengthAdjust="spacingAndGlyphs" >113,000</text>
<text x="1069.24" y="278.00" font-size="13" font-weight="normal" fill="#444" textLength="48.12" lengthAdjust="spacingAndGlyphs" >111,000</text>
<text x="1069.26" y="321.00" font-size="13" font-weight="normal" fill="#444" textLength="48.09" lengthAdjust="spacingAndGlyphs" >110,000</text>
<text x="1069.28" y="374.00" font-size="13" font-weight="normal" fill="#444" textLength="48.06" lengthAdjust="spacingAndGlyphs" >108,800</text>
<text x="1069.28" y="409.00" font-size="13" font-weight="normal" fill="#444" textLength="48.06" lengthAdjust="spacingAndGlyphs" >108,000</text>
<text x="1069.28" y="526.00" font-size="13" font-weight="normal" fill="#444" textLength="48.06" lengthAdjust="spacingAndGlyphs" >105,400</text>
<text x="1069.28" y="561.20" font-size="13" font-weight="normal" fill="#444" textLength="48.06" lengthAdjust="spacingAndGlyphs" >104,600</text>
<text x="1069.28" y="599.00" font-size="13" font-weight="normal" fill="#444" textLength="48.06" lengthAdjust="spacingAndGlyphs" >103,800</text>
<!-- bitcoin icon -->
<circle cx="25.4" cy="23" r="11" fill="#f7931a"/>
<g transform="rotate(14 25.6 23)">
<rect x="23.6" y="16.2" width="1.2" height="2" fill="#fff6e4"/><rect x="25.8" y="16.2" width="1.2" height="2" fill="#fff6e4"/>
<rect x="23.6" y="27.6" width="1.2" height="2" fill="#fff6e4"/><rect x="25.8" y="27.6" width="1.2" height="2" fill="#fff6e4"/>
<text x="25.9" y="27.6" font-size="12.5" font-weight="bold" fill="#fff6e4" stroke="#fff6e4" stroke-width="0.5" text-anchor="middle">B</text>
</g>
<!-- flag -->
<path d="M368.2 16.2H383L378.8 23.2L383 30.8H368.2Z" fill="#f24848"/>
<!-- green dot -->
<circle cx="410" cy="22.9" r="10.6" fill="#e3f1ef"/>
<circle cx="410" cy="22.9" r="4.8" fill="#0d8f76"/>
<!-- sell / buy boxes -->
<rect x="13.5" y="43.5" width="84" height="42" rx="6" fill="#fff" stroke="#a24d58" stroke-width="1"/>
<rect x="125.5" y="43.5" width="84" height="42" rx="6" fill="#fff" stroke="#4b6a9e" stroke-width="1"/>
<!-- price labels -->
<path d="M1059 52h61.5a2 2 0 0 1 2 2v14.5a2 2 0 0 1-2 2H1059z" fill="#f23645"/>
<path d="M1059 155h61.5a2 2 0 0 1 2 2v14.5a2 2 0 0 1-2 2H1059z" fill="#f23645"/>
<path d="M1059 220h61.5a2 2 0 0 1 2 2v14.5a2 2 0 0 1-2 2H1059z" fill="#f23645"/>
<path d="M1059 372h61.5a2 2 0 0 1 2 2v14.5a2 2 0 0 1-2 2H1059z" fill="#f23645"/>
<path d="M1059 479h61.5a2 2 0 0 1 2 2v14.5a2 2 0 0 1-2 2H1059z" fill="#2962ff"/>
<path d="M1059 554h61.5a2 2 0 0 1 2 2v14.5a2 2 0 0 1-2 2H1059z" fill="#2962ff"/>
<path d="M1059 619h61.5a2 2 0 0 1 2 2v14.5a2 2 0 0 1-2 2H1059z" fill="#2962ff"/>
<path d="M1059 421h61.5a2 2 0 0 1 2 2v30.5a2 2 0 0 1-2 2H1059z" fill="#d9503f"/>
<path d="M1058.5 421H1003a3 3 0 0 0-3 3v12.5a3 3 0 0 0 3 3H1058.5z" fill="#d9503f"/>
<!-- USD box -->
<rect x="1063.5" y="8.5" width="58.5" height="30.5" rx="4" fill="#fff" stroke="#ececec" stroke-width="1"/>
<path d="M1111.3 22.6l3.1 3l3.1-3" fill="none" stroke="#222" stroke-width="1.5"/>
<!-- hexagon settings -->
<path d="M1088.6 656.6h9.6l4.6 7.6l-4.6 7.6h-9.6l-4.6-7.6z" fill="none" stroke="#131313" stroke-width="1.4"/>
<circle cx="1093.4" cy="664.2" r="2.6" fill="none" stroke="#131313" stroke-width="1.3"/>
<!-- TradingView logo -->
<g stroke="#fff" stroke-width="4" stroke-linejoin="round" paint-order="stroke">
<path d="M18.1 610H32.7V628.2H25.3V616.5H18.1Z" fill="#131313"/>
<circle cx="39.1" cy="613.5" r="3.5" fill="#131313"/>
<path d="M46.5 610H54.9L48.1 628.2H39.5Z" fill="#131313"/>
</g>
<!-- alert icon -->
<circle cx="979.2" cy="629" r="14.4" fill="#fff"/>
<g fill="none" stroke="#7a2e8e" stroke-width="1.6" stroke-linecap="round">
<path d="M968 625.7A11.7 11.7 0 0 1 983.3 618.05"/>
<path d="M990.45 625.8A11.7 11.7 0 0 1 970.7 637"/>
</g>
<path d="M982.9 622.8L975.4 629.7L983.9 629.1L975.6 636L982.9 629.9L974.6 630.3Z" fill="#7a2e8e" stroke="#7a2e8e" stroke-width="1.1" stroke-linejoin="round"/>
<circle cx="988" cy="620.8" r="3" fill="#d8343f"/>
<path d="M966.4 627.2Q967.3 632.5 971.6 633.4Q967.3 634.3 966.4 639.6Q965.5 634.3 961.2 633.4Q965.5 632.5 966.4 627.2Z" fill="#6b40f0" stroke="#fff" stroke-width="2" paint-order="stroke"/>

<text x="41.37" y="30.40" font-size="18" font-weight="normal" fill="#3b3b3b" textLength="62.71" lengthAdjust="spacingAndGlyphs" stroke="#3b3b3b" stroke-width="0.25">Bitcoin</text>
<text x="112.10" y="30.40" font-size="18" font-weight="normal" fill="#3b3b3b" textLength="4.90" lengthAdjust="spacingAndGlyphs" stroke="#3b3b3b" stroke-width="0.25">/</text>
<text x="126.45" y="30.40" font-size="18" font-weight="normal" fill="#3b3b3b" textLength="36.42" lengthAdjust="spacingAndGlyphs" stroke="#3b3b3b" stroke-width="0.25">U.S.</text>
<text x="168.93" y="30.40" font-size="18" font-weight="normal" fill="#3b3b3b" textLength="52.80" lengthAdjust="spacingAndGlyphs" stroke="#3b3b3b" stroke-width="0.25">Dollar</text>
<text x="226.57" y="30.40" font-size="17" font-weight="bold" fill="#3b3b3b" textLength="6.34" lengthAdjust="spacingAndGlyphs" >·</text>
<text x="237.78" y="30.40" font-size="18" font-weight="normal" fill="#3b3b3b" textLength="21.83" lengthAdjust="spacingAndGlyphs" stroke="#3b3b3b" stroke-width="0.25">1h</text>
<text x="264.22" y="30.40" font-size="17" font-weight="bold" fill="#3b3b3b" textLength="6.57" lengthAdjust="spacingAndGlyphs" >·</text>
<text x="273.19" y="30.40" font-size="18" font-weight="normal" fill="#3b3b3b" textLength="80.73" lengthAdjust="spacingAndGlyphs" stroke="#3b3b3b" stroke-width="0.25">Bitstamp</text>
<text x="430.86" y="28.80" font-size="14.5" font-weight="normal" fill="#5a5a5a" textLength="10.15" lengthAdjust="spacingAndGlyphs" >O</text>
<text x="442.29" y="28.80" font-size="14.5" font-weight="normal" fill="#4a2e2e" textLength="57.42" lengthAdjust="spacingAndGlyphs" >107,485</text>
<text x="507.15" y="28.80" font-size="14.5" font-weight="normal" fill="#5a5a5a" textLength="10.98" lengthAdjust="spacingAndGlyphs" >H</text>
<text x="518.49" y="28.80" font-size="14.5" font-weight="normal" fill="#4a2e2e" textLength="57.42" lengthAdjust="spacingAndGlyphs" >107,795</text>
<text x="583.97" y="28.80" font-size="14.5" font-weight="normal" fill="#5a5a5a" textLength="7.57" lengthAdjust="spacingAndGlyphs" >L</text>
<text x="592.99" y="28.80" font-size="14.5" font-weight="normal" fill="#4a2e2e" textLength="57.54" lengthAdjust="spacingAndGlyphs" >107,259</text>
<text x="658.54" y="28.80" font-size="14.5" font-weight="normal" fill="#5a5a5a" textLength="8.44" lengthAdjust="spacingAndGlyphs" >C</text>
<text x="667.78" y="28.80" font-size="14.5" font-weight="normal" fill="#4a2e2e" textLength="58.15" lengthAdjust="spacingAndGlyphs" >107,445</text>
<text x="733.69" y="28.80" font-size="14.5" font-weight="normal" fill="#4a2e2e" textLength="24.77" lengthAdjust="spacingAndGlyphs" >−33</text>
<text x="764.58" y="28.80" font-size="14.5" font-weight="normal" fill="#4a2e2e" textLength="60.98" lengthAdjust="spacingAndGlyphs" >(−0.03%)</text>
<text x="26.88" y="61.00" font-size="15.5" font-weight="normal" fill="#c0424c" textLength="57.26" lengthAdjust="spacingAndGlyphs" stroke="#c0424c" stroke-width="0.6">107,448</text>
<text x="40.74" y="77.70" font-size="13" font-weight="normal" fill="#c24a52" textLength="29.26" lengthAdjust="spacingAndGlyphs" >SELL</text>
<text x="138.67" y="61.00" font-size="15.5" font-weight="normal" fill="#3461c2" textLength="57.67" lengthAdjust="spacingAndGlyphs" stroke="#3461c2" stroke-width="0.6">107,449</text>
<text x="154.03" y="77.70" font-size="13" font-weight="normal" fill="#3d63b8" textLength="25.83" lengthAdjust="spacingAndGlyphs" >BUY</text>
<text x="109.60" y="67.60" font-size="10.5" font-weight="bold" fill="#1a1a1a" >1</text>
<text x="1070.05" y="65.30" font-size="13" font-weight="normal" fill="#fff" textLength="48.62" lengthAdjust="spacingAndGlyphs" stroke="#fff" stroke-width="0.5">116,052</text>
<text x="1070.05" y="168.30" font-size="13" font-weight="normal" fill="#fff" textLength="48.51" lengthAdjust="spacingAndGlyphs" stroke="#fff" stroke-width="0.5">113,568</text>
<text x="1070.05" y="233.30" font-size="13" font-weight="normal" fill="#fff" textLength="48.51" lengthAdjust="spacingAndGlyphs" stroke="#fff" stroke-width="0.5">112,039</text>
<text x="1070.07" y="385.30" font-size="13" font-weight="normal" fill="#fff" textLength="48.48" lengthAdjust="spacingAndGlyphs" stroke="#fff" stroke-width="0.5">108,559</text>
<text x="1070.07" y="492.30" font-size="13" font-weight="normal" fill="#fff" textLength="48.48" lengthAdjust="spacingAndGlyphs" stroke="#fff" stroke-width="0.5">106,155</text>
<text x="1070.07" y="567.30" font-size="13" font-weight="normal" fill="#fff" textLength="48.58" lengthAdjust="spacingAndGlyphs" stroke="#fff" stroke-width="0.5">104,502</text>
<text x="1070.07" y="632.30" font-size="13" font-weight="normal" fill="#fff" textLength="48.58" lengthAdjust="spacingAndGlyphs" stroke="#fff" stroke-width="0.5">103,091</text>
<text x="1069.87" y="433.80" font-size="13" font-weight="normal" fill="#fff" textLength="48.78" lengthAdjust="spacingAndGlyphs" stroke="#fff" stroke-width="0.5">107,445</text>
<text x="1069.86" y="449.20" font-size="13" font-weight="normal" fill="#fff" textLength="33.99" lengthAdjust="spacingAndGlyphs" stroke="#fff" stroke-width="0.5">10:03</text>
<text x="1004.57" y="435.50" font-size="12.5" font-weight="bold" fill="#fff" textLength="47.83" lengthAdjust="spacingAndGlyphs" >BTCUSD</text>
<text x="1067.74" y="29.80" font-size="14.5" font-weight="normal" fill="#101820" textLength="26.85" lengthAdjust="spacingAndGlyphs" stroke="#101820" stroke-width="0.25">USD</text>
<text x="28.40" y="668.00" font-size="13.5" font-weight="normal" fill="#4a4a4a" textLength="15.11" lengthAdjust="spacingAndGlyphs" >24</text>
<text x="119.39" y="668.00" font-size="13.5" font-weight="normal" fill="#4a4a4a" textLength="15.33" lengthAdjust="spacingAndGlyphs" >25</text>
<text x="211.39" y="668.00" font-size="13.5" font-weight="normal" fill="#4a4a4a" textLength="15.33" lengthAdjust="spacingAndGlyphs" >26</text>
<text x="302.38" y="668.00" font-size="13.5" font-weight="normal" fill="#4a4a4a" textLength="15.44" lengthAdjust="spacingAndGlyphs" >27</text>
<text x="394.39" y="668.00" font-size="13.5" font-weight="normal" fill="#4a4a4a" textLength="15.33" lengthAdjust="spacingAndGlyphs" >28</text>
<text x="486.38" y="668.00" font-size="13.5" font-weight="normal" fill="#4a4a4a" textLength="15.44" lengthAdjust="spacingAndGlyphs" >29</text>
<text x="577.49" y="668.00" font-size="13.5" font-weight="normal" fill="#4a4a4a" textLength="15.22" lengthAdjust="spacingAndGlyphs" >30</text>
<text x="669.49" y="668.00" font-size="13.5" font-weight="normal" fill="#4a4a4a" textLength="15.33" lengthAdjust="spacingAndGlyphs" >31</text>
<text x="756.75" y="667.80" font-size="13.5" font-weight="bold" fill="#444" textLength="24.16" lengthAdjust="spacingAndGlyphs" >Nov</text>
<text x="855.70" y="668.00" font-size="13.5" font-weight="normal" fill="#4a4a4a" textLength="8.82" lengthAdjust="spacingAndGlyphs" >2</text>
<text x="947.83" y="668.00" font-size="13.5" font-weight="normal" fill="#4a4a4a" textLength="8.55" lengthAdjust="spacingAndGlyphs" >3</text>
<text x="1040.08" y="668.00" font-size="13.5" font-weight="normal" fill="#4a4a4a" textLength="8.05" lengthAdjust="spacingAndGlyphs" >4</text>
<text x="65.00" y="628.00" font-size="25" font-weight="bold" fill="#131313" textLength="149.65" lengthAdjust="spacingAndGlyphs" stroke="#fff" stroke-width="3.5" stroke-linejoin="round" paint-order="stroke">TradingView</text>
</g>
</svg>
</body></html>
